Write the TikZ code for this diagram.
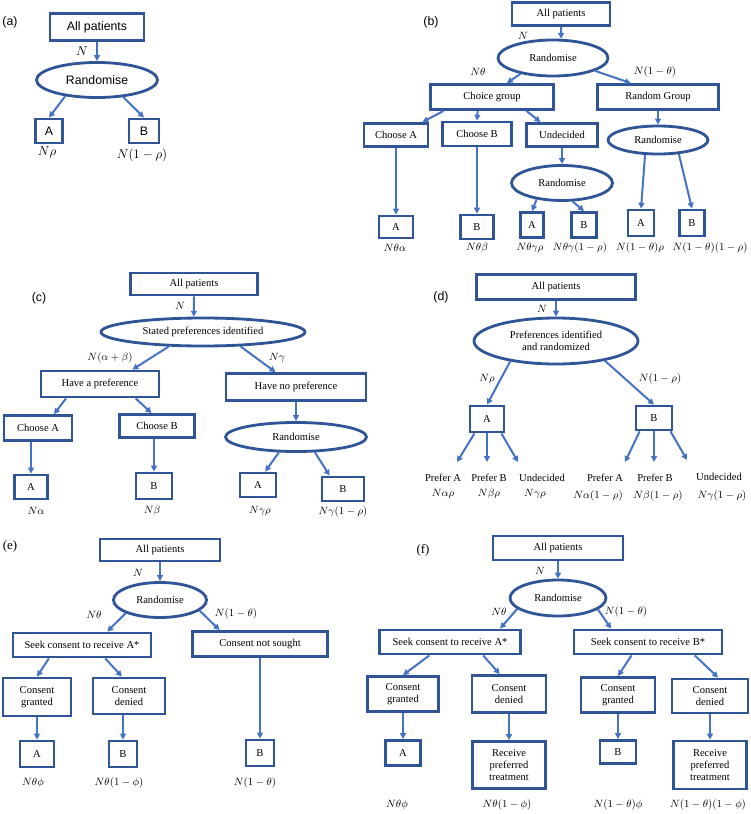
\documentclass[tikz,border=0pt]{standalone}
\usepackage{amsmath, amssymb}
\usepackage{fontspec}
\setmainfont{Liberation Serif}
\newfontfamily\panelsans{Liberation Sans}
\usetikzlibrary{arrows.meta, shapes.geometric}
\definecolor{boxblue}{RGB}{47,85,151}
\definecolor{arrowblue}{RGB}{68,114,196}
\tikzset{wh/.style 2 args={minimum width=#1*0.03cm, minimum height=#2*0.03cm}}

\begin{document}
\begin{tikzpicture}[x=0.03cm, y=-0.03cm, >={Triangle[length=5pt, width=5pt]},
  font=\fontsize{9}{10.5}\selectfont,
  box/.style={draw=boxblue, line width=2.4pt, rectangle, inner sep=1pt, align=center},
  oval/.style={draw=boxblue, line width=2.4pt, ellipse, inner sep=0pt, align=center},
  link/.style={->, draw=arrowblue, line width=1.7pt},
  sans/.style={font=\fontsize{10.5}{12}\panelsans},
  plab/.style={font=\fontsize{11}{13}\selectfont}]

\useasboundingbox (0,0) rectangle (750,814);

\node (a_lbl) [sans] at (10,22) {(a)};
\node (a_all) [box, sans, wh={94}{27}] at (97,27) {All patients};
\node (a_rand) [oval, sans, wh={121}{35}] at (97,80) {Randomise};
\node (a_A) [box, sans, wh={27}{24}] at (49,131) {A};
\node (a_B) [box, sans, wh={30}{24}] at (144,131) {B};
\node (a_n) [sans] at (82,51) {$N$};
\node (a_na) [sans] at (47,152) {$N\rho$};
\node (a_nb) [sans] at (142,155) {$N(1-\rho)$};

\draw[link] (a_all) -- (a_rand);
\draw[link] (a_rand.207) -- (a_A.north);
\draw[link] (a_rand.327) -- (a_B.north);

\node (b_lbl) [sans] at (431,22) {(b)};
\node (b_all) [box, wh={98}{23}] at (561,14) {All patients};
\node (b_rand) [oval, wh={110}{36}] at (553,58) {Randomise};
\node (b_choice) [box, wh={123}{25}] at (492,97) {Choice group};
\node (b_rgrp) [box, wh={121}{25}] at (658,97) {Random Group};
\node (b_chA) [box, wh={64}{23}] at (396,135) {Choose A};
\node (b_chB) [box, wh={69}{24}] at (477,134) {Choose B};
\node (b_und) [box, wh={71}{23}] at (562,135) {Undecided};
\node (b_rand2) [oval, wh={101}{35}] at (562,183) {Randomise};
\node (b_rand3) [oval, wh={100}{28}] at (658,140) {Randomise};
\node (b_A1) [box, wh={34}{22}] at (396,227) {A};
\node (b_B1) [box, wh={33}{24}] at (477,227) {B};
\node (b_A2) [box, wh={23}{25}] at (532,225) {A};
\node (b_B2) [box, wh={25}{25}] at (584,225) {B};
\node (b_A3) [box, wh={26}{26}] at (641,223) {A};
\node (b_B3) [box, wh={25}{26}] at (692,223) {B};
\node (b_n) at (523,36) {$N$};
\node (b_nt) at (478,72) {$N\theta$};
\node (b_nnt) at (655,72) {$N(1-\theta)$};
\node (b_nta) at (395,248) {$N\theta\alpha$};
\node (b_ntb) at (477,248) {$N\theta\beta$};
\node (b_ntgr) at (530,248) {$N\theta\gamma\rho$};
\node (b_ntgnr) at (580,248) {$N\theta\gamma(1-\rho)$};
\node (b_nntr) at (640,248) {$N(1-\theta)\rho$};
\node (b_nntnr) at (710,248) {$N(1-\theta)(1-\rho)$};

\draw[link] (b_all.south) -- (b_rand.67);
\draw[link] (b_rand.206) -- (b_choice.43);
\draw[link] (b_rand.343) -- (b_rgrp.153);
\draw[link] (b_choice.196) -- (b_chA.26);
\draw[link] (b_choice.224) -- (b_chB.north);
\draw[link] (b_choice.338) -- (b_und.149);
\draw[link] (b_rgrp) -- (b_rand3);
\draw[link] (b_chA) -- (b_A1);
\draw[link] (b_chB) -- (b_B1);
\draw[link] (b_und) -- (b_rand2);
\draw[link] (b_rand2.213) -- (b_A2.north);
\draw[link] (b_rand2.300) -- (b_B2.north);
\draw[link] (b_rand3.229) -- (b_A3.north);
\draw[link] (b_rand3.326) -- (b_B3.north);

\node (c_lbl) [sans] at (39,298) {(c)};
\node (c_all) [box, wh={127}{22}] at (194,284) {All patients};
\node (c_ell) [oval, wh={204}{28}] at (203,332) {Stated preferences identified};
\node (c_pref) [box, wh={118}{26}] at (100,384) {Have a preference};
\node (c_nopref) [box, wh={140}{27}] at (296,387) {Have no preference};
\node (c_chA) [box, wh={68}{25}] at (38,428) {Choose A};
\node (c_chB) [box, wh={75}{23}] at (157,426) {Choose B};
\node (c_rand) [oval, wh={141}{29}] at (296,437) {Randomise};
\node (c_A1) [box, wh={33}{24}] at (31,487) {A};
\node (c_B1) [box, wh={36}{26}] at (154,486) {B};
\node (c_A2) [box, wh={36}{24}] at (258,485) {A};
\node (c_B2) [box, wh={42}{24}] at (343,489) {B};
\node (c_n) at (180,306) {$N$};
\node (c_nab) at (110,358) {$N(\alpha+\beta)$};
\node (c_ng) at (277,358) {$N\gamma$};
\node (c_na) at (36,511) {$N\alpha$};
\node (c_nb) at (152,511) {$N\beta$};
\node (c_ngr) at (260,511) {$N\gamma\rho$};
\node (c_ngnr) at (343,512) {$N\gamma(1-\rho)$};

\draw[link] (c_all.south) -- (c_ell.121);
\draw[link] (c_ell.203) -- (c_pref.24);
\draw[link] (c_ell.339) -- (c_nopref.144);
\draw[link] (c_pref.203) -- (c_chA.41);
\draw[link] (c_pref.338) -- (c_chB.113);
\draw[link] (c_nopref) -- (c_rand);
\draw[link] (c_A1.north |- c_chA.south) -- (c_A1.north);
\draw[link] (c_B1.north |- c_chB.south) -- (c_B1.north);
\draw[link] (c_rand.222) -- (c_A2.62);
\draw[link] (c_rand.321) -- (c_B2.135);

\node (d_lbl) [sans] at (441,297) {(d)};
\node (d_all) [box, wh={159}{25}] at (556,287) {All patients};
\node (d_ell) [oval, wh={164}{46}] at (556,341) {Preferences identified\\and randomized};
\node (d_A) [box, wh={34}{26}] at (487,419) {A};
\node (d_B) [box, wh={36}{24}] at (654,418) {B};
\coordinate (d_tA1) at (457,462);
\coordinate (d_tA2) at (487,462);
\coordinate (d_tA3) at (518,462);
\coordinate (d_tB1) at (625,462);
\coordinate (d_tB2) at (654,462);
\coordinate (d_tB3) at (687,460);
\node (d_n) at (542,309) {$N$};
\node (d_nr) at (487,379) {$N\rho$};
\node (d_nnr) at (660,379) {$N(1-\rho)$};
\node (d_pA1) at (443,478) {Prefer A};
\node (d_pB1) at (489,478) {Prefer B};
\node (d_u1) at (542,478) {Undecided};
\node (d_nar) at (443,494) {$N\alpha\rho$};
\node (d_nbr) at (489,494) {$N\beta\rho$};
\node (d_ngr) at (535,494) {$N\gamma\rho$};
\node (d_pA2) at (605,478) {Prefer A};
\node (d_pB2) at (655,478) {Prefer B};
\node (d_u2) at (719,477) {Undecided};
\node (d_nanr) at (598,496) {$N\alpha(1-\rho)$};
\node (d_nbnr) at (658,496) {$N\beta(1-\rho)$};
\node (d_ngnr) at (722,496) {$N\gamma(1-\rho)$};

\draw[link] (d_all) -- (d_ell);
\draw[link] (d_ell.204) -- (d_A.north);
\draw[link] (d_ell.338) -- (d_B.north);
\draw[link] (d_A.229) -- (d_tA1);
\draw[link] (d_A.south) -- (d_tA2);
\draw[link] (d_A.315) -- (d_tA3);
\draw[link] (d_B.223) -- (d_tB1);
\draw[link] (d_B.south) -- (d_tB2);
\draw[link] (d_B.321) -- (d_tB3);

\node (e_lbl) [plab] at (10,546) {(e)};
\node (e_all) [box, wh={120}{22}] at (160,550) {All patients};
\node (e_rand) [oval, wh={93}{35}] at (160,600) {Randomise};
\node (e_seek) [box, wh={138}{24}] at (82,645) {Seek consent to receive A*};
\node (e_nots) [box, wh={135}{25}] at (260,644) {Consent not sought};
\node (e_gr) [box, wh={68}{38}] at (37,697) {Consent\\granted};
\node (e_den) [box, wh={72}{36}] at (129,696) {Consent\\denied};
\node (e_A) [box, wh={34}{26}] at (37,754) {A};
\node (e_B1) [box, wh={28}{26}] at (123,754) {B};
\node (e_B2) [box, wh={28}{26}] at (260,753) {B};
\node (e_n) at (138,573) {$N$};
\node (e_nt) at (94,615) {$N\theta$};
\node (e_nnt) at (236,614) {$N(1-\theta)$};
\node (e_ntp) at (33,783) {$N\theta\phi$};
\node (e_ntnp) at (119,783) {$N\theta(1-\phi)$};
\node (e_nntb) at (255,783) {$N(1-\theta)$};

\draw[link] (e_all) -- (e_rand);
\draw[link] (e_rand.201) -- (e_seek.28);
\draw[link] (e_rand.345) -- (e_nots.161);
\draw[link] (e_seek.202) -- (e_gr.north);
\draw[link] (e_seek.330) -- (e_den.110);
\draw[link] (e_gr) -- (e_A);
\draw[link] (e_B1.north |- e_den.south) -- (e_B1.north);
\draw[link] (e_nots) -- (e_B2);

\node (f_lbl) [plab] at (423,550) {(f)};
\node (f_all) [box, wh={130}{24}] at (558,548) {All patients};
\node (f_rand) [oval, wh={96}{36}] at (558,598) {Randomise};
\node (f_seekA) [box, wh={141}{24}] at (450,642) {Seek consent to receive A*};
\node (f_seekB) [box, wh={148}{24}] at (648,642) {Seek consent to receive B*};
\node (f_grA) [box, wh={71}{35}] at (403,694) {Consent\\granted};
\node (f_denA) [box, wh={74}{37}] at (509,694) {Consent\\denied};
\node (f_grB) [box, wh={74}{35}] at (618,695) {Consent\\granted};
\node (f_denB) [box, wh={76}{34}] at (710,696) {Consent\\denied};
\node (f_A) [box, wh={35}{25}] at (403,753) {A};
\node (f_recA) [box, wh={73}{47}] at (509,765) {Receive\\preferred\\treatment};
\node (f_B) [box, wh={36}{23}] at (618,752) {B};
\node (f_recB) [box, wh={73}{48}] at (710,765) {Receive\\preferred\\treatment};
\node (f_n) at (540,571) {$N$};
\node (f_nt) at (499,612) {$N\theta$};
\node (f_nnt) at (626,612) {$N(1-\theta)$};
\node (f_ntp) at (397,805) {$N\theta\phi$};
\node (f_ntnp) at (507,805) {$N\theta(1-\phi)$};
\node (f_nntp) at (618,805) {$N(1-\theta)\phi$};
\node (f_nntnp) at (708,805) {$N(1-\theta)(1-\phi)$};

\draw[link] (f_all) -- (f_rand);
\draw[link] (f_rand.195) -- (f_seekA.15);
\draw[link] (f_rand.344) -- (f_seekB.160);
\draw[link] (f_seekA.213) -- (f_grA.north);
\draw[link] (f_seekA.338) -- (f_denA.115);
\draw[link] (f_seekB.219) -- (f_grB.north);
\draw[link] (f_seekB.344) -- (f_denB.66);
\draw[link] (f_grA) -- (f_A);
\draw[link] (f_denA) -- (f_recA);
\draw[link] (f_grB) -- (f_B);
\draw[link] (f_denB) -- (f_recB);

\end{tikzpicture}
\end{document}
